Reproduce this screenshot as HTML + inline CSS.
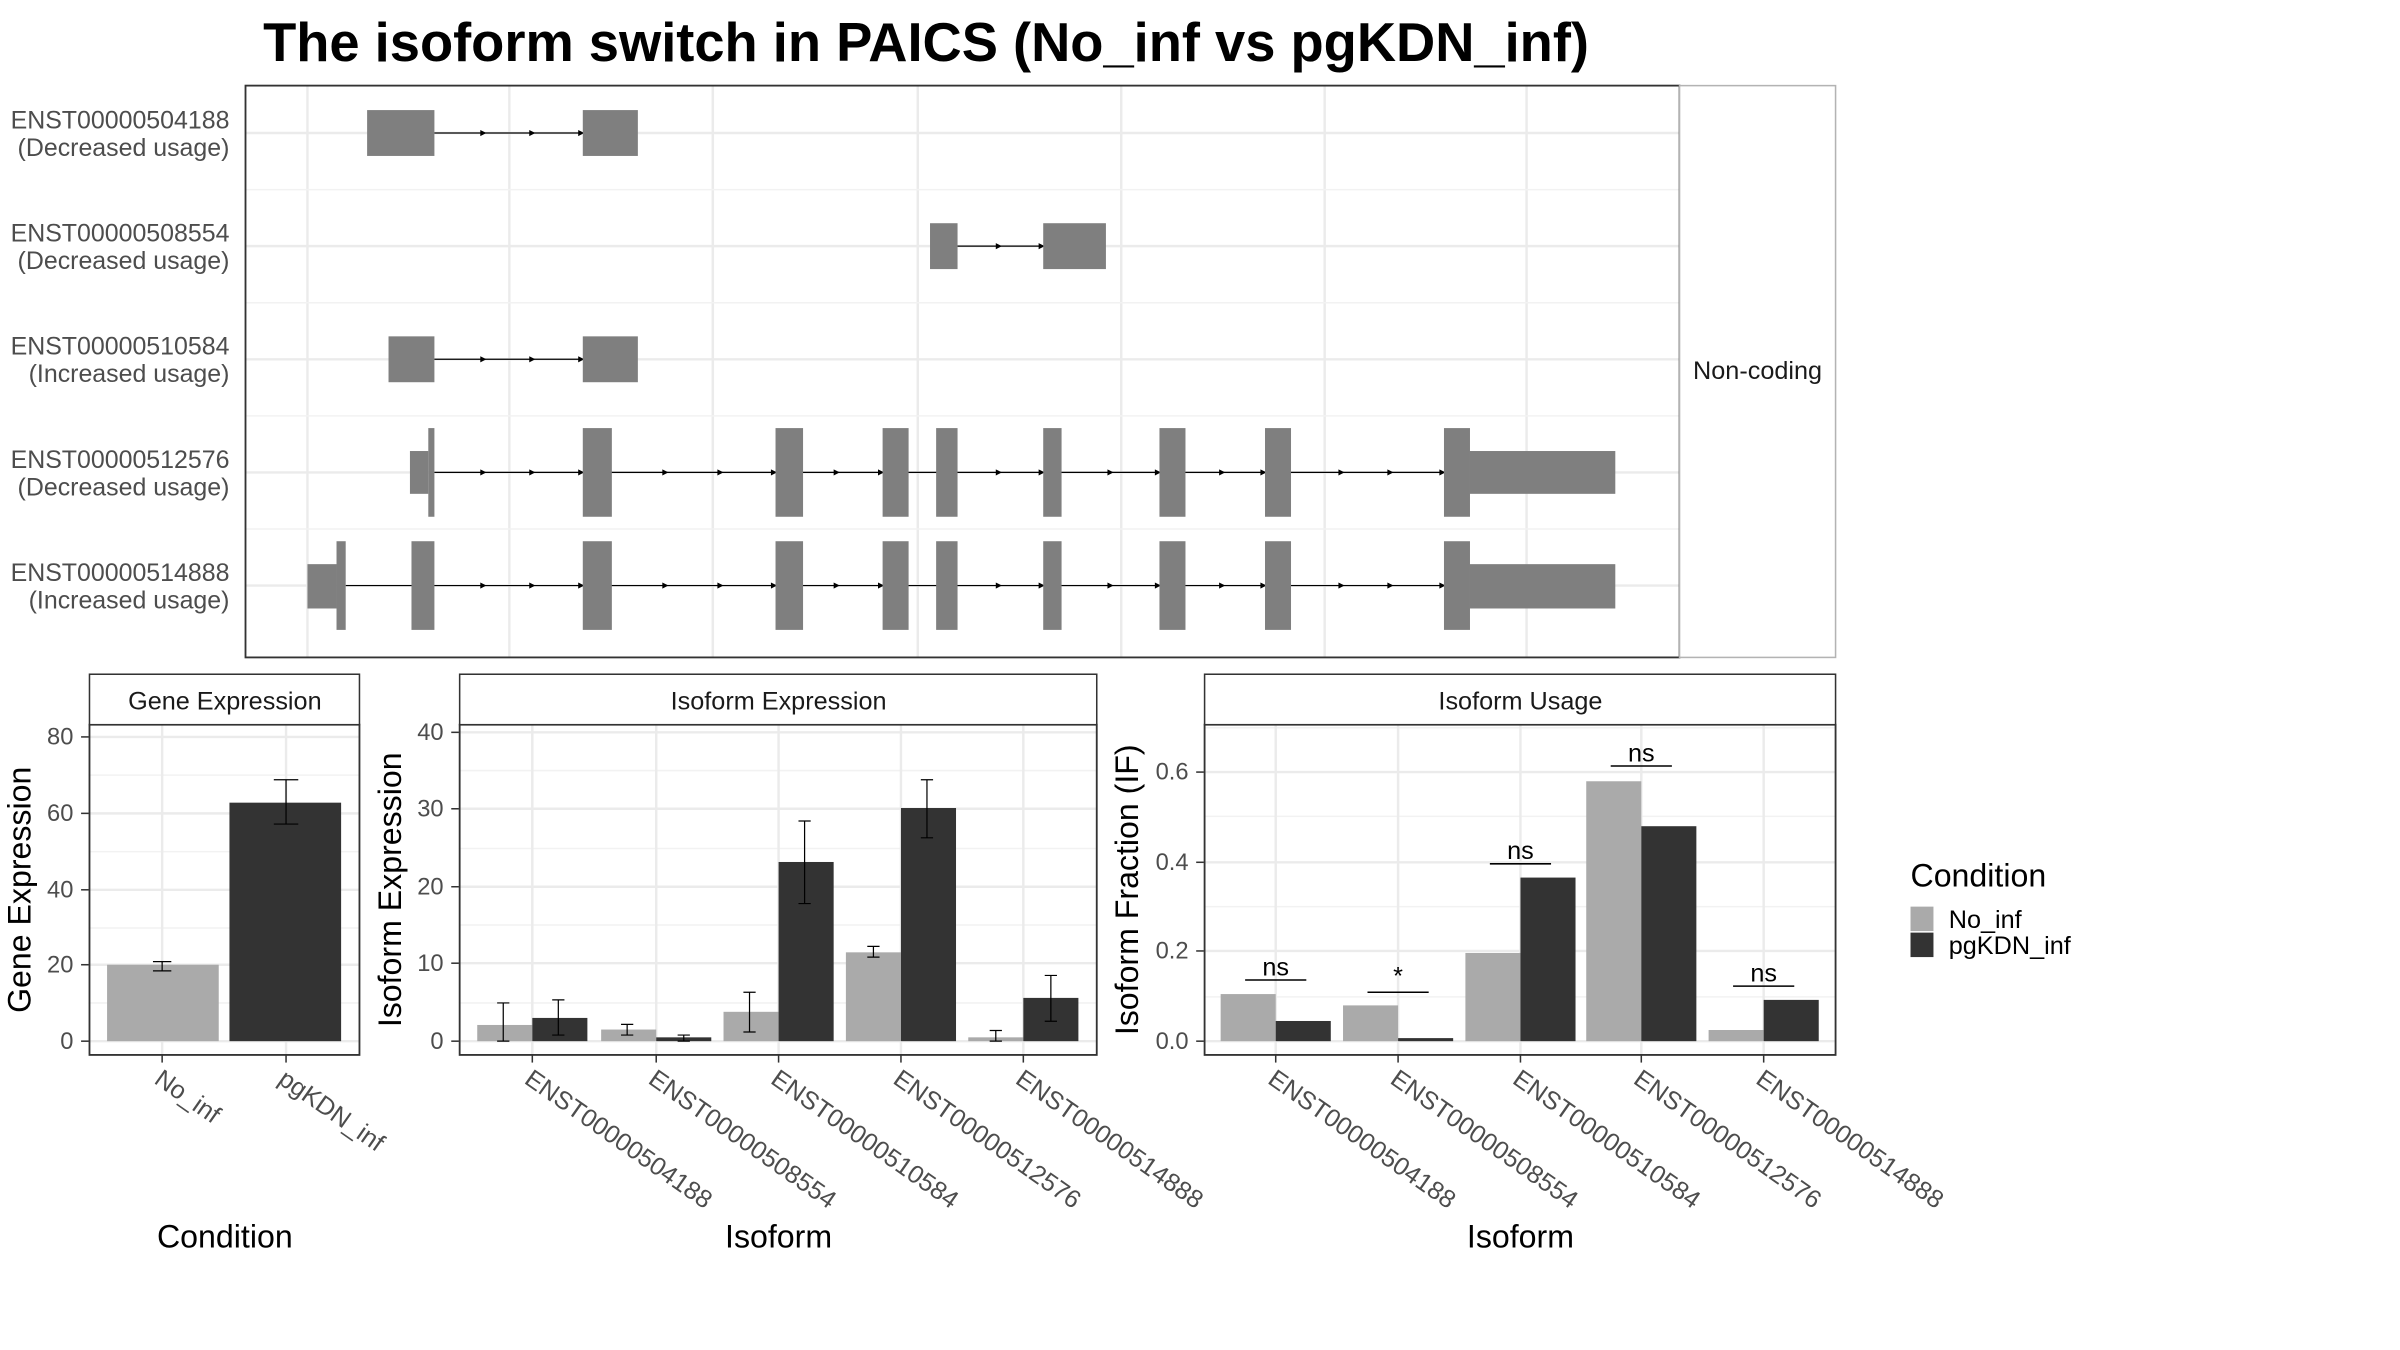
<!DOCTYPE html>
<html><head><meta charset="utf-8"><style>html,body{margin:0;padding:0;background:#fff}svg{display:block}</style></head>
<body>
<svg xmlns="http://www.w3.org/2000/svg" width="2400" height="1350" viewBox="0 0 1569 883" preserveAspectRatio="none" font-family="Liberation Sans, sans-serif">
<rect width="1569" height="883" fill="#fff"/>
<text x="172" y="40" font-size="35.5" font-weight="bold" fill="#000">The isoform switch in PAICS (No_inf vs pgKDN_inf)</text>

<!-- Top panel -->
<g stroke="#ebebeb" stroke-width="1.6">
<line x1="201" y1="56" x2="201" y2="430"/><line x1="333" y1="56" x2="333" y2="430"/><line x1="466" y1="56" x2="466" y2="430"/><line x1="600" y1="56" x2="600" y2="430"/><line x1="733" y1="56" x2="733" y2="430"/><line x1="866" y1="56" x2="866" y2="430"/><line x1="998" y1="56" x2="998" y2="430"/>
<line x1="160" y1="87" x2="1098" y2="87"/><line x1="160" y1="161" x2="1098" y2="161"/><line x1="160" y1="235" x2="1098" y2="235"/><line x1="160" y1="309" x2="1098" y2="309"/><line x1="160" y1="383" x2="1098" y2="383"/>
</g>
<g stroke="#f2f2f2" stroke-width="1">
<line x1="160" y1="124" x2="1098" y2="124"/><line x1="160" y1="198" x2="1098" y2="198"/><line x1="160" y1="272" x2="1098" y2="272"/><line x1="160" y1="346" x2="1098" y2="346"/>
</g>
<g stroke="#000" stroke-width="0.8">
<line x1="284" y1="87" x2="381" y2="87"/><line x1="626" y1="161" x2="682" y2="161"/><line x1="284" y1="235" x2="381" y2="235"/>
<line x1="284" y1="309" x2="944" y2="309"/><line x1="226" y1="383" x2="944" y2="383"/>
</g>
<g fill="#000">
<path d="M314,85 L318,87 L314,89Z M346,85 L350,87 L346,89Z M378,85 L382,87 L378,89Z"/>
<path d="M651,159 L655,161 L651,163Z M679,159 L683,161 L679,163Z"/>
<path d="M314,233 L318,235 L314,237Z M346,233 L350,235 L346,237Z M378,233 L382,235 L378,237Z"/>
<path d="M314,307 L318,309 L314,311Z M346,307 L350,309 L346,311Z M378,307 L382,309 L378,311Z M433,307 L437,309 L433,311Z M469,307 L473,309 L469,311Z M504,307 L508,309 L504,311Z M545,307 L549,309 L545,311Z M574,307 L578,309 L574,311Z M651,307 L655,309 L651,311Z M679,307 L683,309 L679,311Z M724,307 L728,309 L724,311Z M755,307 L759,309 L755,311Z M797,307 L801,309 L797,311Z M824,307 L828,309 L824,311Z M875,307 L879,309 L875,311Z M907,307 L911,309 L907,311Z M941,307 L945,309 L941,311Z"/>
<path d="M314,381 L318,383 L314,385Z M346,381 L350,383 L346,385Z M378,381 L382,383 L378,385Z M433,381 L437,383 L433,385Z M469,381 L473,383 L469,385Z M504,381 L508,383 L504,385Z M545,381 L549,383 L545,385Z M574,381 L578,383 L574,385Z M651,381 L655,383 L651,385Z M679,381 L683,383 L679,385Z M724,381 L728,383 L724,385Z M755,381 L759,383 L755,385Z M797,381 L801,383 L797,385Z M824,381 L828,383 L824,385Z M875,381 L879,383 L875,385Z M907,381 L911,383 L907,385Z M941,381 L945,383 L941,385Z"/>
</g>
<g fill="#7f7f7f">
<rect x="240" y="72" width="44" height="30"/><rect x="381" y="72" width="36" height="30"/>
<rect x="608" y="146" width="18" height="30"/><rect x="682" y="146" width="41" height="30"/>
<rect x="254" y="220" width="30" height="30"/><rect x="381" y="220" width="36" height="30"/>
<rect x="268" y="295" width="12" height="28"/><rect x="280" y="280" width="4" height="58"/>
<rect x="201" y="369" width="19" height="29"/><rect x="220" y="354" width="6" height="58"/><rect x="269" y="354" width="15" height="58"/>
<rect x="381" y="280" width="19" height="58"/><rect x="507" y="280" width="18" height="58"/><rect x="577" y="280" width="17" height="58"/><rect x="612" y="280" width="14" height="58"/><rect x="682" y="280" width="12" height="58"/><rect x="758" y="280" width="17" height="58"/><rect x="827" y="280" width="17" height="58"/><rect x="944" y="280" width="17" height="58"/><rect x="961" y="295" width="95" height="28"/>
<rect x="381" y="354" width="19" height="58"/><rect x="507" y="354" width="18" height="58"/><rect x="577" y="354" width="17" height="58"/><rect x="612" y="354" width="14" height="58"/><rect x="682" y="354" width="12" height="58"/><rect x="758" y="354" width="17" height="58"/><rect x="827" y="354" width="17" height="58"/><rect x="944" y="354" width="17" height="58"/><rect x="961" y="369" width="95" height="29"/>
</g>
<rect x="160.5" y="56" width="937.5" height="374" fill="none" stroke="#333" stroke-width="1.2"/>
<rect x="1098" y="56" width="102" height="374" fill="#fff" stroke="#b3b3b3" stroke-width="1"/>
<text x="1149" y="248" font-size="16.5" text-anchor="middle" fill="#1a1a1a">Non-coding</text>
<g font-size="16.3" fill="#4d4d4d" text-anchor="end">
<text x="150" y="84">ENST00000504188</text><text x="150" y="102">(Decreased usage)</text>
<text x="150" y="158">ENST00000508554</text><text x="150" y="176">(Decreased usage)</text>
<text x="150" y="232">ENST00000510584</text><text x="150" y="250">(Increased usage)</text>
<text x="150" y="306">ENST00000512576</text><text x="150" y="324">(Decreased usage)</text>
<text x="150" y="380">ENST00000514888</text><text x="150" y="398">(Increased usage)</text>
</g>

<!-- Gene Expression -->
<g stroke="#f2f2f2" stroke-width="1"><line x1="58" y1="656" x2="235" y2="656"/><line x1="58" y1="607" x2="235" y2="607"/><line x1="58" y1="557" x2="235" y2="557"/><line x1="58" y1="507" x2="235" y2="507"/></g>
<g stroke="#ebebeb" stroke-width="1.6"><line x1="58" y1="681" x2="235" y2="681"/><line x1="58" y1="631" x2="235" y2="631"/><line x1="58" y1="582" x2="235" y2="582"/><line x1="58" y1="532" x2="235" y2="532"/><line x1="58" y1="482" x2="235" y2="482"/><line x1="106" y1="474" x2="106" y2="690"/><line x1="187" y1="474" x2="187" y2="690"/></g>
<rect x="70" y="631" width="73" height="50" fill="#aaa"/>
<rect x="150" y="525" width="73" height="156" fill="#333"/>
<g stroke="#000" stroke-width="0.8" fill="none">
<path d="M100,629 h12 M106,629 v6 M100,635 h12"/>
<path d="M179,510 h16 M187,510 v29 M179,539 h16"/>
</g>
<rect x="58.5" y="474" width="176.5" height="216" fill="none" stroke="#333" stroke-width="1.2"/>
<rect x="58.5" y="441" width="176.5" height="33" fill="#fff" stroke="#333" stroke-width="1"/>
<text x="147" y="464" font-size="16.5" text-anchor="middle" fill="#1a1a1a">Gene Expression</text>
<g font-size="15.5" fill="#4d4d4d" text-anchor="end"><text x="48" y="686">0</text><text x="48" y="636">20</text><text x="48" y="587">40</text><text x="48" y="537">60</text><text x="48" y="487">80</text></g>
<g stroke="#333"><line x1="53" y1="681" x2="58" y2="681"/><line x1="53" y1="631" x2="58" y2="631"/><line x1="53" y1="582" x2="58" y2="582"/><line x1="53" y1="532" x2="58" y2="532"/><line x1="53" y1="482" x2="58" y2="482"/><line x1="106" y1="690" x2="106" y2="695"/><line x1="187" y1="690" x2="187" y2="695"/></g>
<g font-size="16.5" fill="#4d4d4d"><text transform="translate(100,708) rotate(35)">No_inf</text><text transform="translate(181,708) rotate(35)">pgKDN_inf</text></g>
<text transform="translate(20,582) rotate(-90)" font-size="21" text-anchor="middle" fill="#000">Gene Expression</text>
<text x="147" y="816" font-size="21" text-anchor="middle" fill="#000">Condition</text>

<!-- Isoform Expression -->
<g stroke="#f2f2f2" stroke-width="1"><line x1="300" y1="656" x2="717" y2="656"/><line x1="300" y1="605" x2="717" y2="605"/><line x1="300" y1="555" x2="717" y2="555"/><line x1="300" y1="504" x2="717" y2="504"/></g>
<g stroke="#ebebeb" stroke-width="1.6"><line x1="300" y1="681" x2="717" y2="681"/><line x1="300" y1="630" x2="717" y2="630"/><line x1="300" y1="580" x2="717" y2="580"/><line x1="300" y1="529" x2="717" y2="529"/><line x1="300" y1="479" x2="717" y2="479"/>
<line x1="348" y1="474" x2="348" y2="690"/><line x1="429" y1="474" x2="429" y2="690"/><line x1="509" y1="474" x2="509" y2="690"/><line x1="589" y1="474" x2="589" y2="690"/><line x1="669" y1="474" x2="669" y2="690"/></g>
<g fill="#aaa"><rect x="312" y="670.4" width="36" height="10.6"/><rect x="393" y="673.4" width="36" height="7.6"/><rect x="473" y="661.8" width="36" height="19.2"/><rect x="553" y="622.9" width="36" height="58.1"/><rect x="633" y="678.5" width="36" height="2.5"/></g>
<g fill="#333"><rect x="348" y="665.8" width="36" height="15.2"/><rect x="429" y="678.5" width="36" height="2.5"/><rect x="509" y="563.8" width="36" height="117.2"/><rect x="589" y="528.5" width="36" height="152.5"/><rect x="669" y="652.7" width="36" height="28.3"/></g>
<g stroke="#000" stroke-width="0.8" fill="none">
<path d="M325,656 h8 M329,656 v25 M325,681 h8"/><path d="M361,654 h8 M365,654 v23 M361,677 h8"/>
<path d="M406,670 h8 M410,670 v7 M406,677 h8"/><path d="M443,677 h8 M447,677 v4 M443,681 h8"/>
<path d="M486,649 h8 M490,649 v26 M486,675 h8"/><path d="M522,537 h8 M526,537 v54 M522,591 h8"/>
<path d="M567,619 h8 M571,619 v7 M567,626 h8"/><path d="M602,510 h8 M606,510 v38 M602,548 h8"/>
<path d="M647,674 h8 M651,674 v7 M647,681 h8"/><path d="M683,638 h8 M687,638 v30 M683,668 h8"/>
</g>
<rect x="300.5" y="474" width="416.5" height="216" fill="none" stroke="#333" stroke-width="1.2"/>
<rect x="300.5" y="441" width="416.5" height="33" fill="#fff" stroke="#333" stroke-width="1"/>
<text x="509" y="464" font-size="16.5" text-anchor="middle" fill="#1a1a1a">Isoform Expression</text>
<g font-size="15.5" fill="#4d4d4d" text-anchor="end"><text x="290" y="686">0</text><text x="290" y="635">10</text><text x="290" y="585">20</text><text x="290" y="534">30</text><text x="290" y="484">40</text></g>
<g stroke="#333"><line x1="295" y1="681" x2="300" y2="681"/><line x1="295" y1="630" x2="300" y2="630"/><line x1="295" y1="580" x2="300" y2="580"/><line x1="295" y1="529" x2="300" y2="529"/><line x1="295" y1="479" x2="300" y2="479"/>
<line x1="348" y1="690" x2="348" y2="695"/><line x1="429" y1="690" x2="429" y2="695"/><line x1="509" y1="690" x2="509" y2="695"/><line x1="589" y1="690" x2="589" y2="695"/><line x1="669" y1="690" x2="669" y2="695"/></g>
<g font-size="16.5" fill="#4d4d4d"><text transform="translate(342,708) rotate(35)">ENST00000504188</text><text transform="translate(423,708) rotate(35)">ENST00000508554</text><text transform="translate(503,708) rotate(35)">ENST00000510584</text><text transform="translate(583,708) rotate(35)">ENST00000512576</text><text transform="translate(663,708) rotate(35)">ENST00000514888</text></g>
<text transform="translate(262,582) rotate(-90)" font-size="21" text-anchor="middle" fill="#000">Isoform Expression</text>
<text x="509" y="816" font-size="21" text-anchor="middle" fill="#000">Isoform</text>

<!-- Isoform Usage -->
<g stroke="#f2f2f2" stroke-width="1"><line x1="787" y1="652" x2="1200" y2="652"/><line x1="787" y1="593" x2="1200" y2="593"/><line x1="787" y1="534" x2="1200" y2="534"/><line x1="787" y1="476" x2="1200" y2="476"/></g>
<g stroke="#ebebeb" stroke-width="1.6"><line x1="787" y1="681" x2="1200" y2="681"/><line x1="787" y1="622" x2="1200" y2="622"/><line x1="787" y1="564" x2="1200" y2="564"/><line x1="787" y1="505" x2="1200" y2="505"/>
<line x1="834" y1="474" x2="834" y2="690"/><line x1="914" y1="474" x2="914" y2="690"/><line x1="994" y1="474" x2="994" y2="690"/><line x1="1073" y1="474" x2="1073" y2="690"/><line x1="1153" y1="474" x2="1153" y2="690"/></g>
<g fill="#aaa"><rect x="798" y="650.2" width="36" height="30.8"/><rect x="878" y="657.6" width="36" height="23.4"/><rect x="958" y="623.3" width="36" height="57.7"/><rect x="1037" y="511" width="36" height="170"/><rect x="1117" y="673.7" width="36" height="7.3"/></g>
<g fill="#333"><rect x="834" y="667.8" width="36" height="13.2"/><rect x="914" y="679" width="36" height="2"/><rect x="994" y="574" width="36" height="107"/><rect x="1073" y="540.4" width="36" height="140.6"/><rect x="1153" y="654" width="36" height="27"/></g>
<g stroke="#000" stroke-width="1"><line x1="814" y1="641" x2="854" y2="641"/><line x1="894" y1="649" x2="934" y2="649"/><line x1="974" y1="565" x2="1014" y2="565"/><line x1="1053" y1="501" x2="1093" y2="501"/><line x1="1133" y1="645" x2="1173" y2="645"/></g>
<g font-size="16.5" fill="#000" text-anchor="middle"><text x="834" y="638">ns</text><text x="914" y="644">*</text><text x="994" y="562">ns</text><text x="1073" y="498">ns</text><text x="1153" y="642">ns</text></g>
<rect x="787.5" y="474" width="412.5" height="216" fill="none" stroke="#333" stroke-width="1.2"/>
<rect x="787.5" y="441" width="412.5" height="33" fill="#fff" stroke="#333" stroke-width="1"/>
<text x="994" y="464" font-size="16.5" text-anchor="middle" fill="#1a1a1a">Isoform Usage</text>
<g font-size="15.5" fill="#4d4d4d" text-anchor="end"><text x="777" y="686">0.0</text><text x="777" y="627">0.2</text><text x="777" y="569">0.4</text><text x="777" y="510">0.6</text></g>
<g stroke="#333"><line x1="782" y1="681" x2="787" y2="681"/><line x1="782" y1="622" x2="787" y2="622"/><line x1="782" y1="564" x2="787" y2="564"/><line x1="782" y1="505" x2="787" y2="505"/>
<line x1="834" y1="690" x2="834" y2="695"/><line x1="914" y1="690" x2="914" y2="695"/><line x1="994" y1="690" x2="994" y2="695"/><line x1="1073" y1="690" x2="1073" y2="695"/><line x1="1153" y1="690" x2="1153" y2="695"/></g>
<g font-size="16.5" fill="#4d4d4d"><text transform="translate(828,708) rotate(35)">ENST00000504188</text><text transform="translate(908,708) rotate(35)">ENST00000508554</text><text transform="translate(988,708) rotate(35)">ENST00000510584</text><text transform="translate(1067,708) rotate(35)">ENST00000512576</text><text transform="translate(1147,708) rotate(35)">ENST00000514888</text></g>
<text transform="translate(744,582) rotate(-90)" font-size="21" text-anchor="middle" fill="#000">Isoform Fraction (IF)</text>
<text x="994" y="816" font-size="21" text-anchor="middle" fill="#000">Isoform</text>

<!-- Legend -->
<text x="1249" y="580" font-size="21" fill="#000">Condition</text>
<rect x="1249" y="593" width="15" height="16" fill="#aaa"/>
<rect x="1249" y="610" width="15" height="16" fill="#333"/>
<text x="1274" y="607" font-size="16.5" fill="#000">No_inf</text>
<text x="1274" y="624" font-size="16.5" fill="#000">pgKDN_inf</text>
</svg>
</body></html>
